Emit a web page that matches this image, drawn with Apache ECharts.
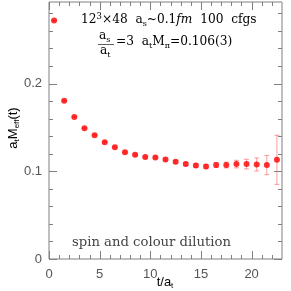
<!DOCTYPE html>
<html><head><meta charset="utf-8">
<script src="https://cdn.jsdelivr.net/npm/echarts@6/dist/echarts.min.js"></script>
<style>html,body{margin:0;padding:0;background:#fff}#c{width:291px;height:291px}</style>
</head><body><div id="c"></div>
<script>
var times = [0.5,1.5,2.5,3.5,4.5,5.5,6.5,7.5,8.5,9.5,10.5,11.5,12.5,13.5,14.5,15.5,16.5,17.5,18.5,19.5,20.5,21.5,22.5];
var meff = [0.2718,0.1803,0.1620,0.1490,0.1412,0.1332,0.1275,0.1218,0.1188,0.1162,0.1157,0.1133,0.1108,0.1082,0.1066,0.1055,0.1071,0.1071,0.1082,0.1082,0.1078,0.1071,0.1131];
var errs = [0.0005,0.0005,0.0006,0.0007,0.0008,0.0009,0.0010,0.0011,0.0012,0.0013,0.0014,0.0015,0.0016,0.0018,0.0020,0.0022,0.0028,0.0033,0.0043,0.0055,0.0075,0.0110,0.0280];
var xMajor = [0,5,10,15,20];
var xMinor = [1,2,3,4,6,7,8,9,11,12,13,14,16,17,18,19,21,22];
var yMajor = [0,0.1,0.2];
var yMinor = [0.02,0.04,0.06,0.08,0.12,0.14,0.16,0.18,0.22,0.24,0.26,0.28];
var yMajorLabels = ['0','0.1','0.2'];
var X_MIN = 0, X_MAX = 23, Y_MIN = 0, Y_MAX = 0.293;

var AX = '#808080';
var LBL = '#555';
var chart = echarts.init(document.getElementById('c'));

var subRich = {b:{fontFamily:'Liberation Sans',fontSize:13,color:LBL,lineHeight:16,verticalAlign:'middle'},
               s:{fontFamily:'Liberation Sans',fontSize:8,color:LBL,lineHeight:8,verticalAlign:'bottom'}};

var pts = times.map(function(t,i){return [t, meff[i]];});
var bars = times.map(function(t,i){return [t, meff[i]-errs[i], meff[i]+errs[i]];});

var serif = 'DejaVu Serif';
var tc = '#333';
var fs = 12.2;
var rich1 = {b:{fontFamily:serif,fontSize:fs,color:tc,lineHeight:16,verticalAlign:'middle'},
  sup:{fontFamily:serif,fontSize:8.5,color:tc,lineHeight:16,verticalAlign:'top'},
  s:{fontFamily:serif,fontSize:8,color:tc,lineHeight:8,verticalAlign:'bottom'},
  i:{fontFamily:serif,fontSize:fs,fontStyle:'italic',color:tc,lineHeight:16,verticalAlign:'middle'}};

var textGraphics = [
  {type:'text', x:165, y:282, style:{text:'{b|t/a}{s|t}', rich:subRich, align:'center', verticalAlign:'middle'}},
  {type:'text', x:13, y:128, rotation:Math.PI/2, style:{text:'{b|a}{s|t}{b|M}{s|eff}{b|(t)}', rich:subRich, align:'center', verticalAlign:'middle'}},
  {type:'text', left:81, top:12, style:{text:'{b|12}{sup|3}{b|×48  a}{s|s}{b|~0.1}{i|fm}{b|  100  cfgs}', rich:rich1}},
  {type:'text', left:99, top:30, style:{text:'{b|a}{s|s}', rich:rich1}},
  {type:'line', shape:{x1:98,y1:44.5,x2:114,y2:44.5}, style:{stroke:tc,lineWidth:0.8}},
  {type:'text', left:100, top:45, style:{text:'{b|a}{s|t}', rich:rich1}},
  {type:'text', left:116, top:36, style:{text:'{b|=3  a}{s|t}{b|M}{s|π}{b|=0.106(3)}', rich:rich1}},
  {type:'text', left:72, top:236, style:{text:'spin and colour dilution', fontFamily:serif, fontSize:13.2, fill:'#444'}}
];

chart.setOption({
  animation:false,
  grid:{left:49,right:9,top:2,bottom:32,show:true,borderColor:AX,borderWidth:1,backgroundColor:'transparent',
        containLabel:false, outerBoundsMode:'none'},
  xAxis:{type:'value', min:X_MIN, max:X_MAX, position:'bottom',
    axisLine:{show:false,onZero:false}, splitLine:{show:false}, axisTick:{show:false},
    axisLabel:{show:true, customValues:xMajor, color:LBL, fontFamily:'Liberation Sans', fontSize:13, margin:9}},
  yAxis:{type:'value', min:Y_MIN, max:Y_MAX, position:'left',
    axisLine:{show:false,onZero:false}, splitLine:{show:false}, axisTick:{show:false},
    axisLabel:{show:true, customValues:yMajor, color:LBL, fontFamily:'Liberation Sans', fontSize:13, margin:7,
      formatter:function(v){var i=yMajor.indexOf(v);return i>=0?yMajorLabels[i]:'';}}},
  series:[
    {type:'custom', data:bars,
      renderItem:function(params, api){
        var x=api.value(0), lo=api.coord([x, api.value(1)]), hi=api.coord([x, api.value(2)]);
        var w=2.5;
        var st={stroke:'rgba(240,80,80,0.55)', lineWidth:1};
        return {type:'group', children:[
          {type:'line', shape:{x1:lo[0],y1:lo[1],x2:hi[0],y2:hi[1]}, style:st},
          {type:'line', shape:{x1:lo[0]-w,y1:lo[1],x2:lo[0]+w,y2:lo[1]}, style:st},
          {type:'line', shape:{x1:hi[0]-w,y1:hi[1],x2:hi[0]+w,y2:hi[1]}, style:st}
        ]};
      }, z:2},
    {type:'scatter', data:pts, symbol:'circle', symbolSize:6,
      itemStyle:{color:'#ff0000'}, z:3}
  ]
});

// tick marks placed through the axes' own scales
var ticks = [];
function tickLine(x1,y1,x2,y2){
  ticks.push({type:'line', z:10, silent:true, shape:{x1:x1,y1:y1,x2:x2,y2:y2}, style:{stroke:AX, lineWidth:1}});
}
function addX(vals, len){
  vals.forEach(function(v){
    var b = chart.convertToPixel({gridIndex:0}, [v, Y_MIN]);
    var t = chart.convertToPixel({gridIndex:0}, [v, Y_MAX]);
    var x = Math.round(b[0]) + 0.5;
    tickLine(x, b[1], x, b[1]-len);
    tickLine(x, t[1], x, t[1]+len);
  });
}
function addY(vals, len){
  vals.forEach(function(v){
    var l = chart.convertToPixel({gridIndex:0}, [X_MIN, v]);
    var r = chart.convertToPixel({gridIndex:0}, [X_MAX, v]);
    var y = Math.round(l[1]) + 0.5;
    tickLine(l[0], y, l[0]+len, y);
    tickLine(r[0], y, r[0]-len, y);
  });
}
addX(xMajor, 8); addX(xMinor, 4); addY(yMajor, 8); addY(yMinor, 4);

chart.setOption({graphic: textGraphics.concat(ticks)});
</script></body></html>
